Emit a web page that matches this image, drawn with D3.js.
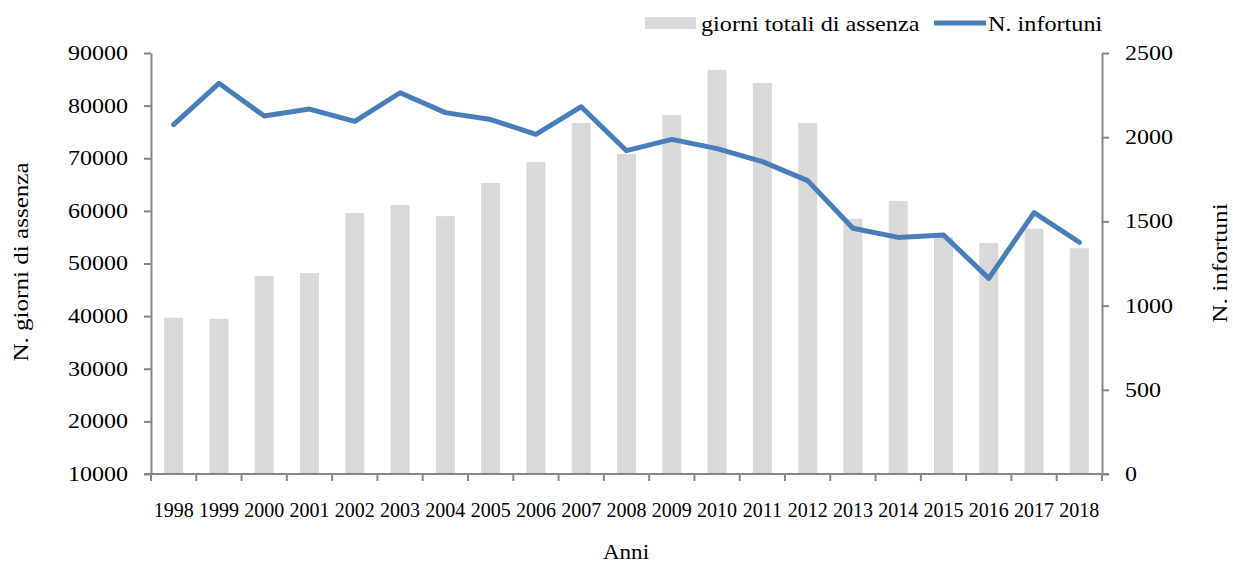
<!DOCTYPE html>
<html>
<head>
<meta charset="utf-8">
<script src="https://cdn.jsdelivr.net/npm/d3@7"></script>
<style>
  html, body { margin: 0; padding: 0; background: #fff; }
  svg text { font-family: "Liberation Serif", "Times New Roman", serif; fill: #000; }
</style>
</head>
<body>
<svg id="chart" width="1233" height="565"></svg>
<script>
const years = ["1998","1999","2000","2001","2002","2003","2004","2005","2006","2007","2008","2009","2010","2011","2012","2013","2014","2015","2016","2017","2018"];
const giorniAssenza = [39700,39500,47600,48200,59600,61100,59000,65300,69300,76700,70800,78200,86800,84300,76700,58500,61900,55000,53900,56600,52900];
const infortuni = [2075,2320,2126,2167,2094,2264,2146,2105,2017,2181,1920,1987,1932,1855,1742,1459,1405,1419,1162,1552,1376];
const leftTicks = [10000,20000,30000,40000,50000,60000,70000,80000,90000];
const rightTicks = [0,500,1000,1500,2000,2500];
const seriesNames = ["giorni totali di assenza", "N. infortuni"];

const svg = d3.select("#chart");
const L = 151, R = 1102, T = 53, B = 474;
const axisColor = "#868686";

function stretch(sel, k) {
  sel.each(function () {
    const w = this.getComputedTextLength();
    d3.select(this).attr("textLength", w * k).attr("lengthAdjust", "spacingAndGlyphs");
  });
}

const x = d3.scaleBand().domain(years).range([L, R]).paddingInner(0).paddingOuter(0);
const yL = d3.scaleLinear().domain([10000, 90000]).range([B, T]);
const yR = d3.scaleLinear().domain([0, 2500]).range([B, T]);

const barW = x.bandwidth() * 0.42;

// bars
svg.append("g").selectAll("rect").data(years).join("rect")
  .attr("x", (d) => x(d) + (x.bandwidth() - barW) / 2)
  .attr("width", barW)
  .attr("y", (d, i) => yL(giorniAssenza[i]))
  .attr("height", (d, i) => B - yL(giorniAssenza[i]))
  .attr("fill", "#d9d9d9");

// axes
function styleAxis(g) {
  g.selectAll(".domain").attr("stroke", axisColor).attr("stroke-width", 2);
  g.selectAll(".tick line").attr("stroke", axisColor).attr("stroke-width", 2);
  g.selectAll(".tick text").attr("font-family", "Liberation Serif").attr("font-size", 20).attr("fill", "#000");
  stretch(g.selectAll(".tick text"), 1.2);
}

const gL = svg.append("g").attr("transform", `translate(${L},0)`)
  .call(d3.axisLeft(yL).tickValues(leftTicks).tickFormat(d3.format("d")).tickSize(7).tickSizeOuter(0).tickPadding(16));
styleAxis(gL);

const gR = svg.append("g").attr("transform", `translate(${R},0)`)
  .call(d3.axisRight(yR).tickValues(rightTicks).tickFormat(d3.format("d")).tickSize(7).tickSizeOuter(0).tickPadding(16));
styleAxis(gR);

// bottom axis: ticks at band boundaries
const gB = svg.append("g").attr("transform", `translate(0,${B})`);
gB.append("line").attr("x1", L - 7).attr("x2", R + 7).attr("y1", 0).attr("y2", 0)
  .attr("stroke", axisColor).attr("stroke-width", 2);
const bounds = years.map(d => x(d)).concat([R]);
gB.selectAll("line.tk").data(bounds).join("line").attr("class", "tk")
  .attr("x1", d => d).attr("x2", d => d).attr("y1", 0).attr("y2", 7)
  .attr("stroke", axisColor).attr("stroke-width", 2);
gB.selectAll("text").data(years).join("text")
  .attr("x", d => x(d) + x.bandwidth() / 2)
  .attr("y", 43)
  .attr("text-anchor", "middle")
  .attr("font-size", 20)
  .text(d => d);

// line
const line = d3.line()
  .x((d, i) => x(years[i]) + x.bandwidth() / 2)
  .y(d => yR(d));
svg.append("path").datum(infortuni)
  .attr("d", line)
  .attr("fill", "none")
  .attr("stroke", "#4a7ebb")
  .attr("stroke-width", 5)
  .attr("stroke-linejoin", "round")
  .attr("stroke-linecap", "round");

// axis titles
const tL = svg.append("text")
  .attr("transform", `translate(28,262) rotate(-90)`)
  .attr("text-anchor", "middle")
  .attr("font-size", 22)
  .text("N. giorni di assenza");
stretch(tL, 1.14);
const tR = svg.append("text")
  .attr("transform", `translate(1227,263) rotate(-90)`)
  .attr("text-anchor", "middle")
  .attr("font-size", 22)
  .text("N. infortuni");
stretch(tR, 1.15);
const tB = svg.append("text")
  .attr("x", 626).attr("y", 559)
  .attr("text-anchor", "middle")
  .attr("font-size", 22)
  .text("Anni");
stretch(tB, 1.05);

// legend
const lg = svg.append("g");
lg.append("rect").attr("x", 645).attr("y", 17).attr("width", 51).attr("height", 12).attr("fill", "#d9d9d9");
const lt1 = lg.append("text").attr("x", 701).attr("y", 31).attr("font-size", 22).text(seriesNames[0]);
stretch(lt1, 1.1);
lg.append("line").attr("x1", 934).attr("x2", 986).attr("y1", 23).attr("y2", 23)
  .attr("stroke", "#4a7ebb").attr("stroke-width", 5);
const lt2 = lg.append("text").attr("x", 988).attr("y", 31).attr("font-size", 22).text(seriesNames[1]);
stretch(lt2, 1.1);
</script>
</body>
</html>
